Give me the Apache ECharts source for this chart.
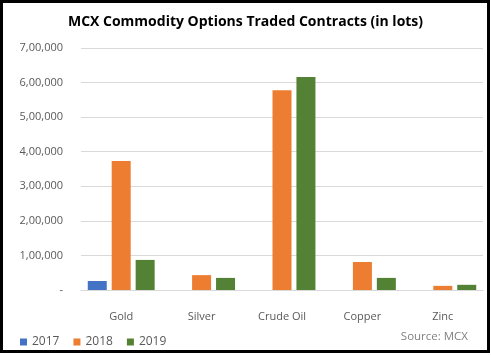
<!DOCTYPE html>
<html><head><meta charset="utf-8">
<script src="https://cdn.jsdelivr.net/npm/echarts@6/dist/echarts.min.js"></script>
<style>html,body{margin:0;padding:0;background:#fff}#c{width:491px;height:355px}</style>
</head><body><div id="c"></div>
<script>
var categories = ['Gold', 'Silver', 'Crude Oil', 'Copper', 'Zinc'];
var s2017 = [26000, null, null, null, null];
var s2018 = [373000, 43000, 578000, 81000, 12000];
var s2019 = [87000, 35000, 616000, 35000, 15000];
var yTicks = ['-', '1,00,000', '2,00,000', '3,00,000', '4,00,000', '5,00,000', '6,00,000', '7,00,000'];

var font = 'Open Sans';
var chart = echarts.init(document.getElementById('c'), null, {renderer: 'canvas'});
function bar(name, data, color) {
  return {name: name, type: 'bar', data: data, barWidth: 19, barGap: '26%',
    itemStyle: {color: color}};
}
chart.setOption({
  animation: false,
  graphic: [
    {type: 'rect', shape: {x: 1.5, y: 1.5, width: 487, height: 350}, style: {fill: 'none', stroke: '#000', lineWidth: 3}},
    {type: 'text', right: 23, top: 331, style: {text: 'Source: MCX', fill: '#808080', font: '11.5px "Open Sans"'}}
  ],
  title: {text: 'MCX Commodity Options Traded Contracts (in lots)', left: 'center', top: 10,
    textStyle: {fontFamily: font, fontSize: 14, fontWeight: 'bold', color: '#000'}},
  legend: {left: 15, top: 331, itemWidth: 7, itemHeight: 7, itemGap: 14,
    icon: 'rect', textStyle: {fontFamily: font, fontSize: 12, color: '#595959'}},
  grid: {left: 81, right: 8, top: 48, bottom: 65, containLabel: false},
  xAxis: {type: 'category', data: categories,
    axisLine: {show: true, lineStyle: {color: '#d9d9d9'}}, axisTick: {show: false},
    axisLabel: {margin: 21, fontFamily: font, fontSize: 11, color: '#595959'}},
  yAxis: {type: 'value', min: 0, max: 700000, interval: 100000,
    axisLine: {show: false}, axisTick: {show: false},
    splitLine: {lineStyle: {color: '#d9d9d9'}},
    axisLabel: {margin: 18, fontFamily: font, fontSize: 11, color: '#595959',
      formatter: function (v) { return yTicks[Math.round(v / 100000)]; }}},
  series: [bar('2017', s2017, '#4472c4'), bar('2018', s2018, '#ed7d31'), bar('2019', s2019, '#548235')]
});
</script></body></html>
